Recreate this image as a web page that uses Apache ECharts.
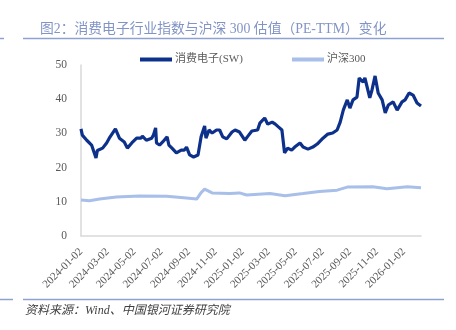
<!DOCTYPE html>
<html><head><meta charset="utf-8">
<script src="https://cdn.jsdelivr.net/npm/echarts@6/dist/echarts.min.js"></script>
<style>html,body{margin:0;padding:0;background:#fff}#c{width:456px;height:330px}</style>
</head><body><div id="c"></div>
<script>
// ---- data ----
const tickLabels = ['2024-01-02','2024-03-02','2024-05-02','2024-07-02','2024-09-02','2024-11-02','2025-01-02','2025-03-02','2025-05-02','2025-07-02','2025-09-02','2025-11-02','2026-01-02'];
const ceDates = ['2024-01-02','2024-01-05','2024-01-15','2024-01-26','2024-01-30','2024-02-05','2024-02-08','2024-02-20','2024-02-29','2024-03-06','2024-03-20','2024-03-29','2024-04-09','2024-04-16','2024-04-26','2024-05-07','2024-05-17','2024-05-20','2024-05-29','2024-06-10','2024-06-14','2024-06-19','2024-06-21','2024-06-28','2024-07-05','2024-07-15','2024-07-19','2024-07-26','2024-08-05','2024-08-16','2024-08-23','2024-08-28','2024-09-04','2024-09-13','2024-09-23','2024-09-30','2024-10-08','2024-10-11','2024-10-18','2024-10-25','2024-11-04','2024-11-11','2024-11-18','2024-11-27','2024-12-09','2024-12-16','2024-12-26','2025-01-07','2025-01-14','2025-01-23','2025-02-05','2025-02-10','2025-02-21','2025-02-28','2025-03-10','2025-03-17','2025-03-24','2025-04-01','2025-04-07','2025-04-14','2025-04-23','2025-04-30','2025-05-12','2025-05-19','2025-05-30','2025-06-10','2025-06-20','2025-07-03','2025-07-14','2025-07-25','2025-08-04','2025-08-11','2025-08-18','2025-08-27','2025-09-02','2025-09-09','2025-09-18','2025-09-23','2025-10-02','2025-10-06','2025-10-17','2025-10-22','2025-10-29','2025-11-05','2025-11-14','2025-11-21','2025-11-28','2025-12-09','2025-12-18','2025-12-29','2026-01-05','2026-01-14','2026-01-23','2026-02-01','2026-02-10'];
const ceValues = [31.3,29.5,28.0,26.6,25.1,22.8,25.0,25.7,27.2,28.6,31.3,28.6,27.5,25.7,27.2,28.6,28.6,29.2,28.0,28.6,29.5,31.6,27.2,26.6,27.5,29.0,26.6,25.7,24.3,25.1,25.1,26.0,23.7,23.1,23.7,29.0,32.2,28.6,31.0,30.1,31.0,31.0,29.0,28.4,30.4,31.0,30.4,28.0,29.2,30.7,31.0,33.0,34.5,32.7,33.3,32.7,31.9,31.0,24.3,25.7,25.1,26.0,27.2,26.0,25.4,26.0,26.9,28.6,29.8,30.1,31.0,33.3,36.8,39.8,37.4,39.8,40.6,46.2,45.0,46.2,40.4,42.7,46.8,41.8,39.8,36.0,38.3,39.2,36.8,39.2,39.8,41.8,41.2,38.9,38.0];
const hsDates = ['2024-01-02','2024-01-21','2024-02-13','2024-03-22','2024-05-13','2024-07-14','2024-08-28','2024-09-20','2024-09-30','2024-10-08','2024-10-25','2024-12-04','2024-12-26','2025-01-11','2025-03-05','2025-04-08','2025-05-19','2025-06-25','2025-08-04','2025-08-27','2025-10-24','2025-11-25','2026-01-10','2026-02-10'];
const hsValues = [10.5,10.3,10.8,11.4,11.7,11.6,11.1,10.8,12.7,13.7,12.6,12.4,12.6,12.0,12.4,11.8,12.4,13.0,13.4,14.3,14.4,13.8,14.4,14.1];
const seriesNames = ['消费电子(SW)','沪深300'];
const yTicks = [0,10,20,30,40,50];

const chart = echarts.init(document.getElementById('c'), null, {renderer:'canvas'});
const FONT = '"Liberation Serif","Noto Sans CJK SC",serif';
const pairs = (d,v)=>d.map((x,i)=>[x,v[i]]);
chart.setOption({
  animation:false,
  backgroundColor:'#fff',
  title:{text:'图2：消费电子行业指数与沪深 300 估值（PE-TTM）变化',left:35,top:17,
    textStyle:{fontFamily:FONT,fontSize:13.8,fontWeight:'normal',color:'#8294c6'}},
  legend:[
    {data:[seriesNames[0]],left:135,top:49,itemWidth:32,itemHeight:4,icon:'rect',
     textStyle:{fontFamily:FONT,fontSize:11,color:'#595959',padding:[0,0,0,-2]}},
    {data:[seriesNames[1]],left:287,top:49,itemWidth:32,itemHeight:4,icon:'rect',
     textStyle:{fontFamily:FONT,fontSize:11,color:'#595959',padding:[0,0,0,-2]}}
  ],
  grid:{left:81,right:35,top:65,bottom:94,containLabel:false},
  xAxis:{type:'time',min:'2024-01-02',max:'2026-02-10',
    axisLine:{show:true,lineStyle:{color:'#d9d9d9',width:1.5}},
    axisTick:{show:false},splitLine:{show:false},minorTick:{show:false},
    axisLabel:{customValues:tickLabels.map(s=>echarts.time.parse(s).getTime()),
      formatter:'{yyyy}-{MM}-{dd}',rotate:45,margin:14,fontFamily:FONT,fontSize:11,color:'#595959',
      showMinLabel:true,showMaxLabel:true,hideOverlap:false}},
  yAxis:{type:'value',min:0,max:50,interval:10,
    axisLine:{show:true,lineStyle:{color:'#d9d9d9',width:1.5}},
    axisTick:{show:false},splitLine:{show:false},
    axisLabel:{margin:14,fontFamily:FONT,fontSize:11.5,color:'#595959'}},
  series:[
    {name:seriesNames[0],type:'line',data:pairs(ceDates,ceValues),showSymbol:false,symbol:'none',
     lineStyle:{color:'#0d318b',width:3.2},itemStyle:{color:'#0d318b'},z:3},
    {name:seriesNames[1],type:'line',data:pairs(hsDates,hsValues),showSymbol:false,symbol:'none',
     lineStyle:{color:'#a8bfe9',width:3},itemStyle:{color:'#a8bfe9'},z:2}
  ],
  graphic:[
    {type:'line',shape:{x1:23,y1:38.5,x2:444,y2:38.5},style:{stroke:'#8ea2d2',lineWidth:1.5}},
    {type:'line',shape:{x1:0,y1:38.5,x2:4,y2:38.5},style:{stroke:'#8ea2d2',lineWidth:1.5}},
    {type:'line',shape:{x1:23,y1:299.5,x2:444,y2:299.5},style:{stroke:'#8ea2d2',lineWidth:1.5}},
    {type:'line',shape:{x1:0,y1:299.5,x2:13,y2:299.5},style:{stroke:'#8ea2d2',lineWidth:1.5}},
    {type:'text',left:25,top:305,style:{text:'资料来源：Wind、中国银河证券研究院',
      font:'italic 12px "Liberation Serif","Noto Sans CJK SC",serif',fill:'#404040'}}
  ]
});
</script></body></html>
